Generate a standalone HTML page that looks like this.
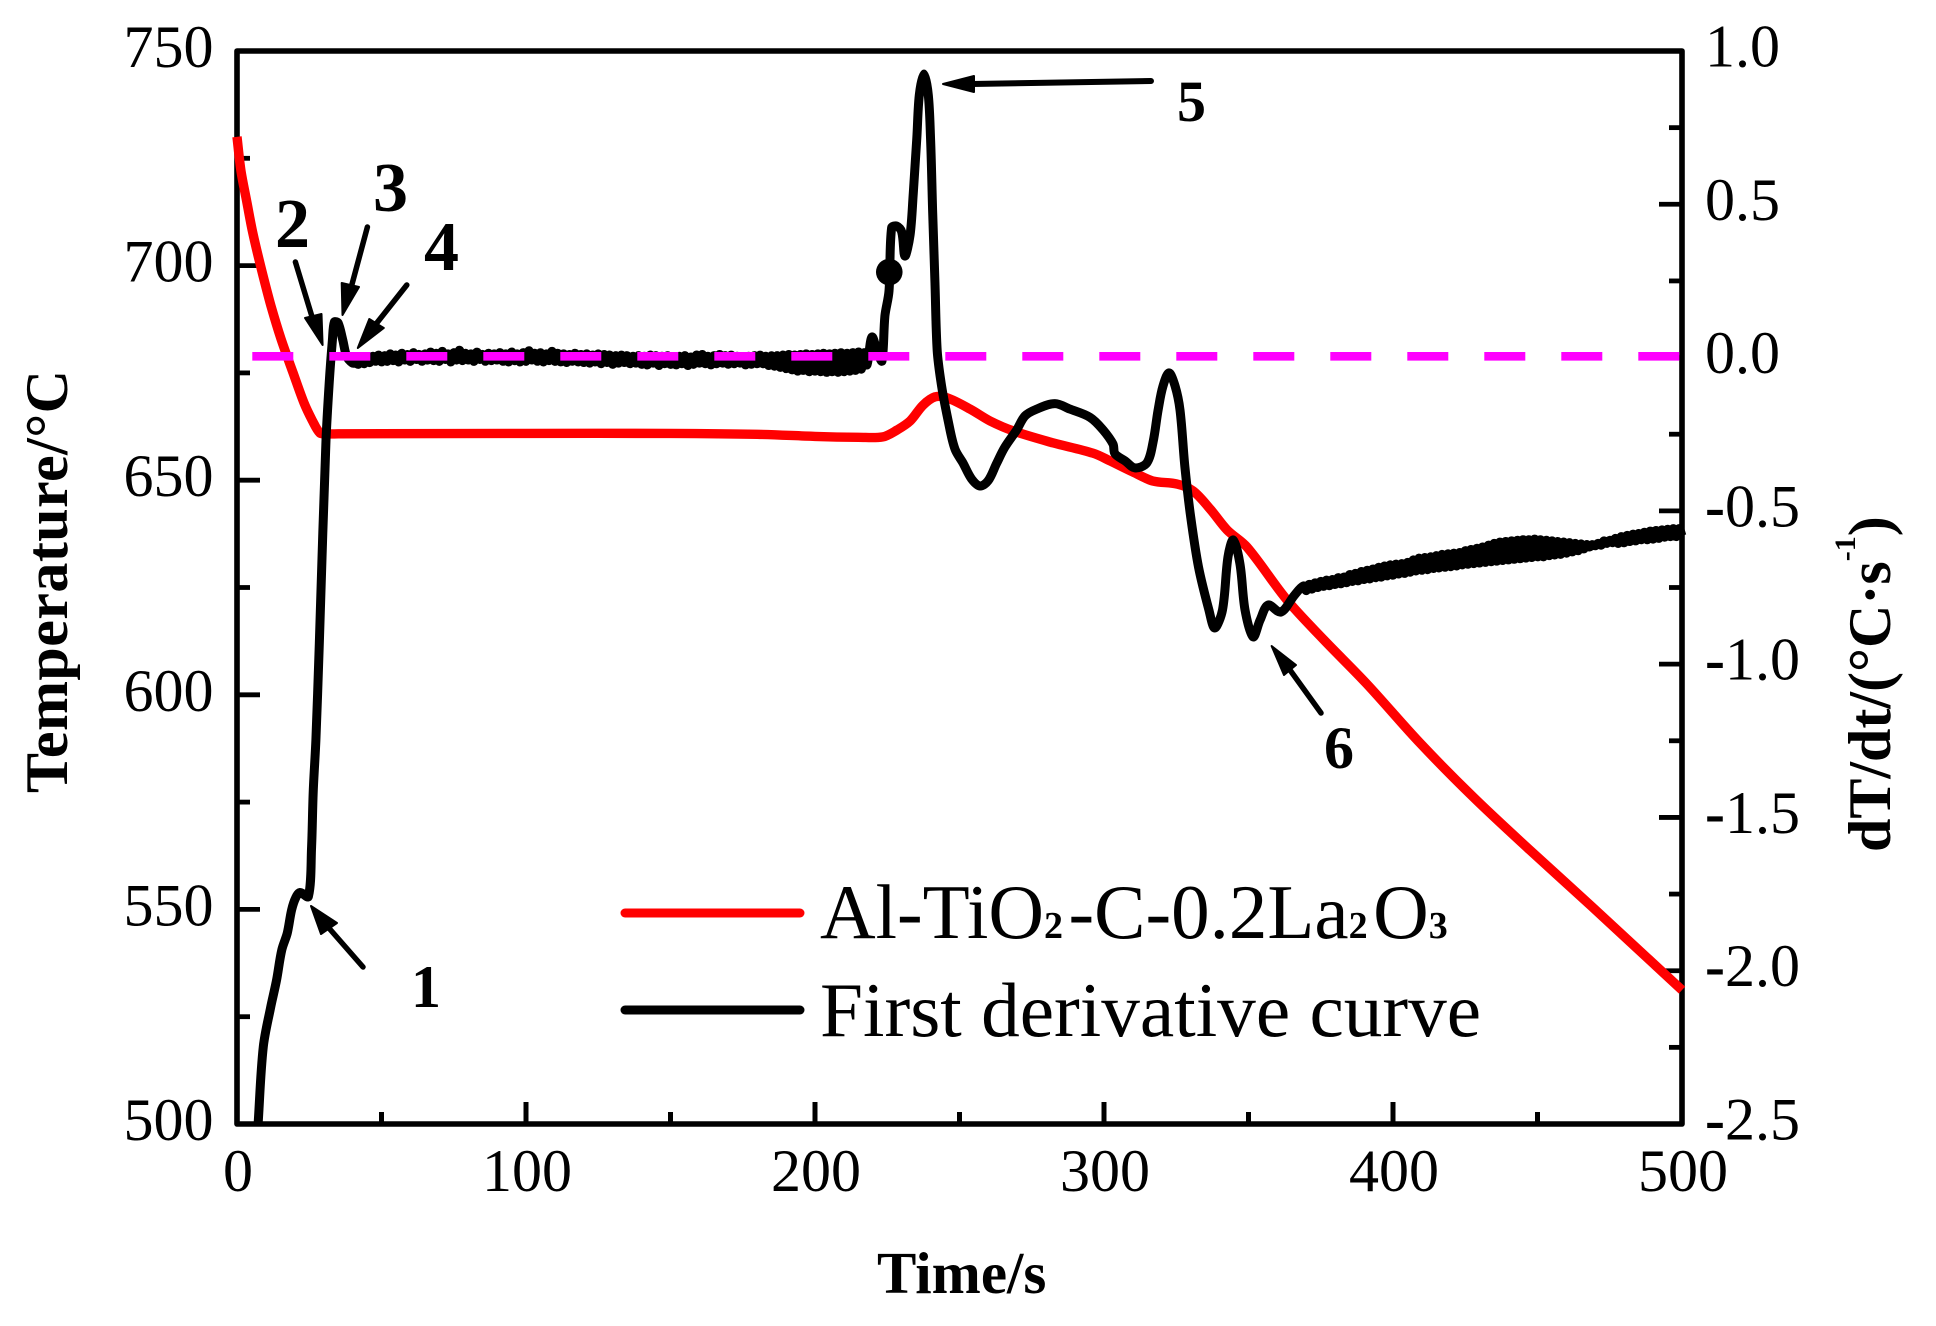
<!DOCTYPE html>
<html lang="en">
<head>
<meta charset="utf-8">
<title>Al-TiO2-C-0.2La2O3 cooling curve</title>
<style>
html,body{margin:0;padding:0;background:#fff;}
svg{display:block;}
text{font-family:"Liberation Serif","DejaVu Serif",serif;fill:#000;}
</style>
</head>
<body>
<svg id="chart" xmlns="http://www.w3.org/2000/svg" width="1936" height="1326" viewBox="0 0 1936 1326">
  <rect x="0" y="0" width="1936" height="1326" fill="#fff"/>
  <rect x="237" y="51" width="1445" height="1073" fill="none" stroke="#000" stroke-width="5.6" stroke-linejoin="round"/>
  <g id="ticks"></g>
  <g id="tick-labels" font-size="60"></g>
  <g id="series"></g>

  <text x="877" y="1293" font-size="59" font-weight="bold">Time/s</text>
  <text x="67" y="793" font-size="60" font-weight="bold" textLength="423" transform="rotate(-90 67 793)">Temperature/°C</text>
  <text x="1890" y="852" font-size="60" font-weight="bold" transform="rotate(-90 1890 852)">dT/dt/(°C·s<tspan font-size="30" dy="-35">-1</tspan><tspan dy="35">)</tspan></text>

  <g>
    <line x1="625" y1="913" x2="800" y2="913" stroke="#f00" stroke-width="9" stroke-linecap="round"/>
    <text x="820" y="938" font-size="77">Al-TiO<tspan font-size="38" font-weight="bold" letter-spacing="5.5">2</tspan>-C-0.2La<tspan font-size="38" font-weight="bold" letter-spacing="5.5">2</tspan>O<tspan font-size="38" font-weight="bold" letter-spacing="5.5">3</tspan></text>
    <line x1="625" y1="1010" x2="800" y2="1010" stroke="#000" stroke-width="9" stroke-linecap="round"/>
    <text x="820" y="1036" font-size="77.3">First derivative curve</text>
  </g>

  <g font-weight="bold">
    <g>
      <line x1="363" y1="967" x2="328" y2="927" stroke="#000" stroke-width="5.5" stroke-linecap="round"/>
      <polygon points="311,906 337,923 321,934" fill="#000" stroke="#000" stroke-width="2" stroke-linejoin="round"/>
      <text x="411" y="1007" font-size="60">1</text>
    </g>
    <g>
      <line x1="295.4" y1="262" x2="313" y2="320" stroke="#000" stroke-width="5.5" stroke-linecap="round"/>
      <polygon points="322.6,345 305,318 321.5,314" fill="#000" stroke="#000" stroke-width="2" stroke-linejoin="round"/>
      <text x="275" y="247" font-size="70">2</text>
    </g>
    <g>
      <line x1="367.4" y1="227" x2="351" y2="288" stroke="#000" stroke-width="5.5" stroke-linecap="round"/>
      <polygon points="342.5,315 341.7,283 359,287" fill="#000" stroke="#000" stroke-width="2" stroke-linejoin="round"/>
      <text x="373" y="211" font-size="70">3</text>
    </g>
    <g>
      <line x1="406.8" y1="285" x2="376" y2="324" stroke="#000" stroke-width="5.5" stroke-linecap="round"/>
      <polygon points="357.8,348 369.3,319 383.8,328" fill="#000" stroke="#000" stroke-width="2" stroke-linejoin="round"/>
      <text x="424" y="270" font-size="70">4</text>
    </g>
    <g>
      <line x1="1151" y1="81" x2="972" y2="84" stroke="#000" stroke-width="6" stroke-linecap="round"/>
      <polygon points="943,84 974,76 974,92" fill="#000" stroke="#000" stroke-width="2" stroke-linejoin="round"/>
      <text x="1177" y="121" font-size="58">5</text>
    </g>
    <g>
      <line x1="1321" y1="713" x2="1290" y2="670" stroke="#000" stroke-width="5.5" stroke-linecap="round"/>
      <polygon points="1271.6,646 1296,665 1284,675" fill="#000" stroke="#000" stroke-width="2" stroke-linejoin="round"/>
      <text x="1324" y="768" font-size="60">6</text>
    </g>
  </g>
</svg>
<script>
// ---- Axis tick data ----
var xMajorTicks = [0, 100, 200, 300, 400, 500];
var xMinorTicks = [50, 150, 250, 350, 450];
var tempMajorTicks = [750, 700, 650, 600, 550, 500];
var tempMinorTicks = [725, 675, 625, 575, 525];
var rateMajorTicks = [1.0, 0.5, 0.0, -0.5, -1.0, -1.5, -2.0, -2.5];
var rateMinorTicks = [0.75, 0.25, -0.25, -0.75, -1.25, -1.75, -2.25];
var rateTickLabels = ["1.0", "0.5", "0.0", "-0.5", "-1.0", "-1.5", "-2.0", "-2.5"];

// ---- Temperature curve (s, °C) ----
var tempTimes = [0, 1.4, 3.5, 5.5, 8.7, 11.8, 15.2, 19.4, 23.2, 26, 28.7, 31, 35, 100, 150, 180, 200, 215, 223.5, 228.4, 232.9, 237.4, 241.5, 245.7, 253.6, 260.6, 268.5, 282.4, 296.2, 302.1, 310, 317, 325.3, 330.8, 336.7, 342.6, 349.5, 363.3, 376.1, 390.7, 409.3, 427.7, 447.4, 468.9, 500];
var tempValues = [730, 722, 714.5, 707.5, 698.5, 690.5, 683, 675, 668, 664, 661, 660.8, 660.8, 660.9, 660.9, 660.7, 660.2, 660, 660.1, 661.7, 663.8, 667.5, 669.4, 669.2, 666.6, 663.8, 661.5, 658.7, 656.3, 654.5, 651.9, 649.8, 649.1, 647.5, 643.3, 638.4, 634.4, 622.1, 612.8, 602.7, 588.8, 576.2, 563.8, 550.6, 531.2];

// ---- First derivative curve (s, °C/s), by stage ----
var riseTimes = [7.3, 9.1, 11.7, 13.7, 15.5, 17.4, 18.9, 20.3, 21.8, 24.7, 25.8, 26.4, 27.3, 28.4, 29.7, 30.8, 31.9, 33, 33.7, 35, 36.6, 38, 40];
var riseValues = [-2.5, -2.248, -2.117, -2.03, -1.932, -1.877, -1.802, -1.762, -1.745, -1.758, -1.595, -1.41, -1.247, -0.954, -0.572, -0.269, -0.083, 0.057, 0.116, 0.113, 0.057, 0.003, -0.018];

var plateauTimes = [41,42,43,44,45,46,47,48,49,50,51,52,53,54,55,56,57,58,59,60,
61,62,63,64,65,66,67,68,69,70,71,72,73,74,75,76,77,78,79,80,
81,82,83,84,85,86,87,88,89,90,91,92,93,94,95,96,97,98,99,100,
101,102,103,104,105,106,107,108,109,110,111,112,113,114,115,116,117,118,119,120,
121,122,123,124,125,126,127,128,129,130,131,132,133,134,135,136,137,138,139,140,
141,142,143,144,145,146,147,148,149,150,151,152,153,154,155,156,157,158,159,160,
161,162,163,164,165,166,167,168,169,170,171,172,173,174,175,176,177,178,179,180,
181,182,183,184,185,186,187,188,189,190,191,192,193,194,195,196,197,198,199,200,
201,202,203,204,205,206,207,208,209,210,211,212,213,214,215,216,217];
var plateauValues = [-.018,-.022,-.010,-.020,-.006,-.016,.004,-.012,.008,-.014,.006,-.012,.012,-.010,.008,-.014,.014,-.008,.010,-.012,
.016,-.006,.010,-.012,.012,-.008,.018,-.010,.014,-.012,.020,-.006,.012,-.014,.016,-.008,.024,-.010,.014,-.008,
.012,-.012,.018,-.006,.010,-.012,.014,-.010,.012,-.008,.016,-.012,.012,-.014,.018,-.010,.012,-.014,.016,-.012,
.022,-.008,.014,-.012,.016,-.014,.012,-.010,.020,-.012,.014,-.014,.012,-.016,.010,-.012,.014,-.014,.010,-.016,
.012,-.018,.008,-.014,.012,-.020,.010,-.016,.008,-.022,.006,-.018,.008,-.016,.006,-.020,.004,-.018,.006,-.022,
.004,-.024,.008,-.018,.006,-.026,.004,-.020,.006,-.022,.002,-.024,.004,-.020,.006,-.026,.002,-.022,.008,-.018,
.010,-.020,.004,-.024,.006,-.020,.010,-.018,.006,-.022,.008,-.020,.004,-.018,.002,-.024,.004,-.022,.006,-.020,
.008,-.020,.004,-.026,.006,-.028,.006,-.032,.008,-.036,.010,-.040,.008,-.044,.010,-.042,.012,-.046,.010,-.044,
.012,-.046,.014,-.048,.012,-.046,.014,-.048,.016,-.046,.014,-.044,.016,-.042,.018,-.038,.016];

var eventTimes = [218,219.7,221.8,223.2,224.2,225.6,226.5,228.3,230,231.1,232.9,234,235.2,236.1,237.7,239.2,240,240.7,241.5,242.3,243.8,246.1,248.4,251.2,254.2,257.1,259.9,262.9,265.7,269.8,272.7,276.7,283,288.2,295.2,299.7,303.1,303.8,307.3,310.7,314.8,317,318.7,320.4,322.5,324.6,326.3,328,330,332.7,336.3,338.3,341,342.9,344.7,347,348.8,351.6,354,356.8,361.2,366];
var eventValues = [-0.024,0.067,0.012,-0.011,0.136,0.217,0.423,0.429,0.41,0.331,0.4,0.537,0.71,0.856,0.925,0.856,0.71,0.481,0.25,0.022,-0.093,-0.207,-0.298,-0.344,-0.396,-0.419,-0.402,-0.344,-0.292,-0.236,-0.19,-0.168,-0.15,-0.168,-0.195,-0.236,-0.282,-0.314,-0.337,-0.36,-0.344,-0.275,-0.173,-0.093,-0.05,-0.093,-0.171,-0.357,-0.52,-0.683,-0.823,-0.882,-0.823,-0.65,-0.595,-0.67,-0.823,-0.911,-0.856,-0.807,-0.83,-0.774];

var tailTimes = [369,370,371,372,373,374,375,376,377,378,379,380,
381,382,383,384,385,386,387,388,389,390,391,392,393,394,395,396,397,398,399,400,
401,402,403,404,405,406,407,408,409,410,411,412,413,414,415,416,417,418,419,420,
421,422,423,424,425,426,427,428,429,430,431,432,433,434,435,436,437,438,439,440,
441,442,443,444,445,446,447,448,449,450,451,452,453,454,455,456,457,458,459,460,
461,462,463,464,465,466,467,468,469,470,471,472,473,474,475,476,477,478,479,480,
481,482,483,484,485,486,487,488,489,490,491,492,493,494,495,496,497,498,499,500];
var tailValues = [-.745,-.760,-.740,-.755,-.735,-.750,-.730,-.746,-.726,-.744,-.724,-.740,
-.718,-.738,-.716,-.734,-.708,-.730,-.704,-.728,-.698,-.724,-.694,-.722,-.690,-.718,-.684,-.716,-.680,-.712,-.676,-.710,
-.674,-.706,-.672,-.704,-.668,-.700,-.660,-.696,-.654,-.694,-.652,-.692,-.650,-.688,-.646,-.686,-.642,-.684,-.640,-.682,
-.638,-.680,-.636,-.676,-.630,-.674,-.626,-.672,-.622,-.670,-.618,-.668,-.612,-.666,-.606,-.664,-.602,-.662,-.600,-.660,
-.598,-.658,-.596,-.656,-.594,-.654,-.594,-.652,-.592,-.650,-.594,-.650,-.596,-.646,-.598,-.644,-.600,-.642,-.602,-.638,
-.604,-.634,-.606,-.630,-.608,-.624,-.610,-.618,-.610,-.614,-.606,-.612,-.598,-.606,-.596,-.604,-.590,-.606,-.584,-.604,
-.580,-.600,-.576,-.598,-.574,-.594,-.570,-.594,-.566,-.592,-.564,-.590,-.562,-.586,-.560,-.584,-.558,-.584,-.558,-.582];

// Large dot on the derivative curve, and the zero reference line
var dotTimes = [225.7];
var dotValues = [0.279];
var zeroTimes = [5.3, 499.5];
var zeroValues = [0.004, 0.004];

// ---- Axis functions ----
function xScale(t) { return 237 + t * (1682 - 237) / 500; }
function tempScale(T) { return 1124 - (T - 500) * (1124 - 51) / 250; }
function rateScale(v) { return 51 + (1 - v) * (1124 - 51) / 3.5; }

var NS = 'http://www.w3.org/2000/svg';
var ticksGroup = document.getElementById('ticks');
var labelsGroup = document.getElementById('tick-labels');
var seriesGroup = document.getElementById('series');

function addTick(x1, y1, x2, y2, width) {
  var l = document.createElementNS(NS, 'line');
  l.setAttribute('x1', x1);
  l.setAttribute('y1', y1);
  l.setAttribute('x2', x2);
  l.setAttribute('y2', y2);
  l.setAttribute('stroke', '#000');
  l.setAttribute('stroke-width', width);
  
  
  ticksGroup.appendChild(l);
}

function addLabel(str, x, y, anchor) {
  var t = document.createElementNS(NS, 'text');
  t.setAttribute('x', x);
  t.setAttribute('y', y);
  t.setAttribute('text-anchor', anchor);
  
  
  if (str.charAt(0) === '-') {
    var dash = document.createElementNS(NS, 'tspan');
    dash.setAttribute('font-weight', 'bold');
    dash.textContent = '-';
    t.appendChild(dash);
    t.appendChild(document.createTextNode(str.slice(1)));
  } else {
    t.textContent = str;
  }
  labelsGroup.appendChild(t);
}

xMajorTicks.forEach(function (v) {
  addTick(xScale(v), 1124, xScale(v), 1102, 5);
  addLabel(String(v), xScale(v) + 1, 1191, 'middle');
});
xMinorTicks.forEach(function (v) {
  addTick(xScale(v), 1124, xScale(v), 1112, 5);
});
tempMajorTicks.forEach(function (v) {
  if (v !== 750 && v !== 500) addTick(237, tempScale(v), 260, tempScale(v), 4.8);
  addLabel(String(v), 213.5, tempScale(v) + 16, 'end');
});
tempMinorTicks.forEach(function (v) {
  addTick(237, tempScale(v), 250, tempScale(v), 4.8);
});
rateMajorTicks.forEach(function (v, i) {
  if (i !== 0 && i !== rateMajorTicks.length - 1) addTick(1682, rateScale(v), 1659, rateScale(v), 4.8);
  addLabel(rateTickLabels[i], 1705, rateScale(v) + 15.5, 'start');
});
rateMinorTicks.forEach(function (v) {
  addTick(1682, rateScale(v), 1669, rateScale(v), 4.8);
});

// Smooth path through the data points, tangents weighted by segment length
function smoothPath(times, values, yFn) {
  var pts = times.map(function (t, i) { return [xScale(t), yFn(values[i])]; });
  function dist(a, b) { return Math.hypot(a[0] - b[0], a[1] - b[1]) || 0.001; }
  function tangent(i) {
    var p0 = pts[Math.max(i - 1, 0)], p2 = pts[Math.min(i + 1, pts.length - 1)], p1 = pts[i];
    var d = dist(p0, p1) + dist(p1, p2);
    return [(p2[0] - p0[0]) / d, (p2[1] - p0[1]) / d];
  }
  var out = 'M' + pts[0][0].toFixed(1) + ' ' + pts[0][1].toFixed(1);
  for (var i = 0; i < pts.length - 1; i++) {
    var a = pts[i], b = pts[i + 1], s = dist(a, b) / 3;
    var ta = tangent(i), tb = tangent(i + 1);
    out += 'C' + (a[0] + ta[0] * s).toFixed(1) + ' ' + (a[1] + ta[1] * s).toFixed(1) + ' ' +
           (b[0] - tb[0] * s).toFixed(1) + ' ' + (b[1] - tb[1] * s).toFixed(1) + ' ' +
           b[0].toFixed(1) + ' ' + b[1].toFixed(1);
  }
  return out;
}

// Temperature series
var tempLine = document.createElementNS(NS, 'path');
tempLine.setAttribute('d', smoothPath(tempTimes, tempValues, tempScale));
tempLine.setAttribute('fill', 'none');
tempLine.setAttribute('stroke', '#f00');
tempLine.setAttribute('stroke-width', '9.4');
tempLine.setAttribute('stroke-linejoin', 'round');


seriesGroup.appendChild(tempLine);

// Derivative series
var derivTimes = riseTimes.concat(plateauTimes, eventTimes, tailTimes);
var derivValues = riseValues.concat(plateauValues, eventValues, tailValues);
var derivLine = document.createElementNS(NS, 'path');
derivLine.setAttribute('d', smoothPath(derivTimes, derivValues, rateScale));
derivLine.setAttribute('fill', 'none');
derivLine.setAttribute('stroke', '#000');
derivLine.setAttribute('stroke-width', '9');
derivLine.setAttribute('stroke-linejoin', 'round');


seriesGroup.appendChild(derivLine);

dotTimes.forEach(function (t, i) {
  var c = document.createElementNS(NS, 'circle');
  c.setAttribute('cx', xScale(t));
  c.setAttribute('cy', rateScale(dotValues[i]));
  c.setAttribute('r', '13.3');
  c.setAttribute('fill', '#000');
  
  
  seriesGroup.appendChild(c);
});

// Zero reference line
var zeroLine = document.createElementNS(NS, 'polyline');
zeroLine.setAttribute('points', zeroTimes.map(function (t, i) { return xScale(t).toFixed(1) + ',' + rateScale(zeroValues[i]).toFixed(1); }).join(' '));
zeroLine.setAttribute('fill', 'none');
zeroLine.setAttribute('stroke', '#f0f');
zeroLine.setAttribute('stroke-width', '8.6');
zeroLine.setAttribute('stroke-dasharray', '41 36');


seriesGroup.appendChild(zeroLine);
</script>
</body>
</html>
